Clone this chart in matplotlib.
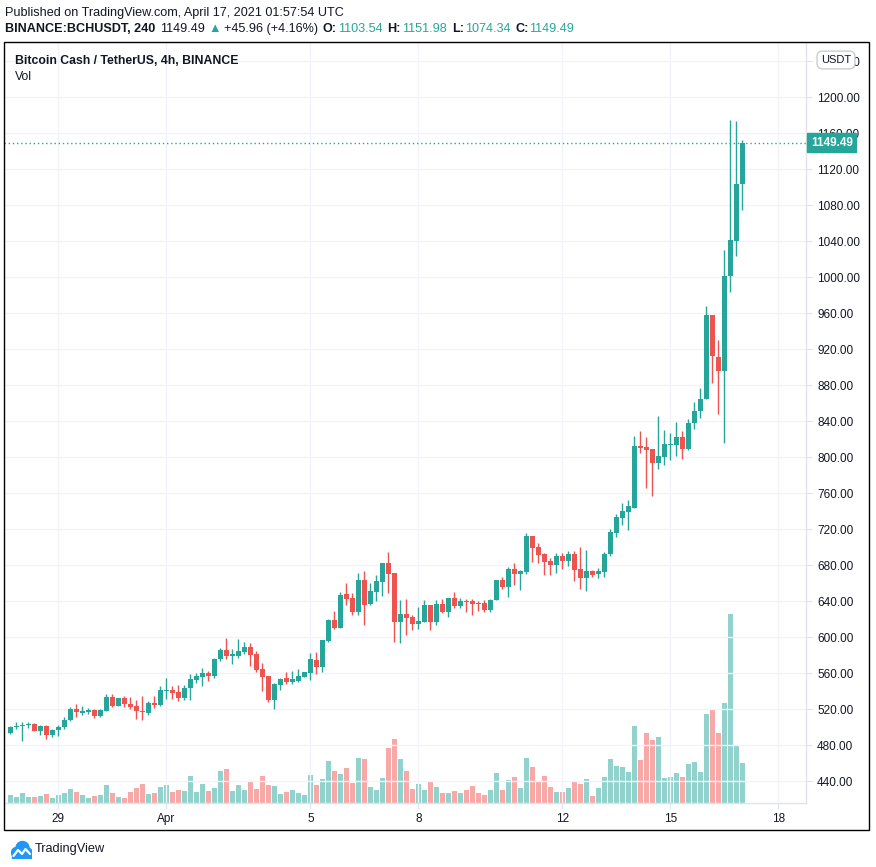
import matplotlib
matplotlib.use("Agg")
import matplotlib.pyplot as plt
from matplotlib.patches import Rectangle, Circle
from matplotlib.transforms import blended_transform_factory

plt.rcParams['font.family'] = ['Liberation Sans', 'DejaVu Sans']

# ---------------- data (BCH/USDT, 4h candles, Mar 27 16:00 -> Apr 17 00:00) ----------------
opens = [494.0, 500.0, 501.8, 502.9, 504.0, 496.2, 501.4, 491.8, 497.4, 500.3,
         508.5, 520.3, 516.2, 517.3, 519.2, 512.9, 518.5, 533.6, 524.0, 532.5,
         525.5, 523.6, 517.3, 516.2, 527.0, 525.1, 540.7, 541.4, 539.6, 532.9,
         543.3, 552.5, 556.2, 560.3, 557.4, 575.5, 585.9, 579.6, 579.6, 583.7,
         589.2, 581.4, 564.8, 557.0, 530.3, 547.0, 554.8, 550.3, 551.4, 555.9,
         560.3, 574.8, 567.0, 595.9, 619.2, 610.3, 648.1, 643.7, 628.1, 663.7,
         637.0, 650.3, 661.4, 682.5, 671.4, 617.0, 625.9, 622.5, 614.8, 617.0,
         635.9, 617.0, 637.0, 628.1, 643.7, 634.8, 640.3, 640.3, 638.1, 638.1,
         630.3, 641.5, 663.7, 656.3, 676.0, 670.8, 672.6, 712.6, 700.4, 693.0,
         685.2, 680.8, 690.8, 685.2, 693.0, 676.3, 666.1, 674.1, 670.8, 673.0,
         693.0, 715.9, 732.6, 739.3, 743.7, 812.6, 811.5, 809.3, 793.7, 800.4,
         814.0, 813.7, 822.6, 808.9, 837.7, 851.0, 864.4, 957.7, 911.1, 895.5,
         1001.0, 1040.0, 1103.54]
highs = [502.0, 505.9, 505.9, 505.5, 505.0, 502.5, 502.5, 498.1, 502.5, 511.4,
         522.5, 525.9, 523.6, 521.1, 520.3, 520.7, 537.0, 537.0, 533.0, 534.8,
         533.6, 530.3, 534.8, 528.8, 534.8, 545.5, 554.8, 545.9, 547.0, 547.0,
         559.2, 560.7, 565.5, 562.9, 576.6, 588.1, 599.2, 587.4, 597.7, 594.8,
         593.3, 584.4, 571.4, 557.0, 549.2, 554.8, 561.4, 562.5, 564.8, 562.0,
         582.5, 583.7, 597.0, 620.3, 629.2, 650.3, 660.3, 649.2, 671.4, 673.7,
         660.3, 669.2, 682.5, 694.8, 671.4, 641.4, 642.5, 624.8, 633.7, 641.4,
         635.9, 641.4, 642.5, 643.7, 650.3, 643.7, 642.5, 642.5, 640.3, 641.4,
         642.5, 663.7, 667.4, 678.1, 682.6, 674.8, 716.0, 712.6, 704.8, 694.1,
         688.2, 694.1, 694.1, 696.3, 696.3, 700.8, 697.4, 675.2, 677.4, 695.2,
         720.4, 737.0, 749.3, 752.6, 823.7, 829.3, 822.6, 809.3, 845.9, 830.4,
         827.0, 839.3, 829.3, 842.2, 861.0, 876.6, 967.7, 957.7, 930.0, 1030.0,
         1174.4, 1173.3, 1151.98]
lows = [493.0, 498.5, 485.1, 499.6, 496.2, 491.8, 487.4, 489.6, 490.7, 498.5,
        507.4, 511.8, 514.0, 515.1, 510.7, 511.1, 518.5, 522.9, 523.5, 522.2,
        519.9, 509.6, 508.5, 513.3, 521.1, 524.0, 531.8, 531.8, 528.8, 530.0,
        530.0, 549.2, 545.5, 551.8, 555.1, 573.3, 575.9, 570.7, 577.0, 581.4,
        568.1, 561.4, 540.3, 528.1, 520.3, 541.4, 548.1, 548.1, 550.3, 555.5,
        552.5, 559.2, 561.4, 594.8, 609.2, 610.3, 635.9, 624.8, 624.8, 613.7,
        635.9, 640.3, 645.9, 649.2, 594.8, 593.7, 602.5, 608.1, 609.2, 617.0,
        608.1, 613.7, 627.0, 622.5, 632.5, 632.5, 628.1, 624.8, 629.2, 628.1,
        628.0, 641.5, 653.7, 645.2, 658.5, 653.0, 670.4, 683.7, 682.6, 669.7,
        669.7, 671.9, 676.3, 679.7, 663.0, 654.1, 651.9, 667.4, 666.3, 667.4,
        690.8, 711.5, 724.8, 719.3, 743.7, 804.8, 765.9, 757.0, 787.0, 791.5,
        797.0, 801.5, 798.1, 807.8, 831.1, 843.3, 864.4, 882.2, 847.7, 815.5,
        983.3, 1023.3, 1074.34]
closes = [500.7, 501.8, 502.9, 504.0, 496.2, 501.4, 491.8, 497.0, 500.3, 508.1,
          520.3, 517.3, 518.5, 519.6, 512.9, 519.6, 533.6, 524.0, 532.5, 525.5,
          522.9, 517.7, 516.6, 527.0, 524.8, 541.4, 541.4, 538.5, 532.9, 543.3,
          553.3, 557.0, 560.3, 557.0, 575.5, 585.9, 579.2, 581.4, 584.8, 589.2,
          580.3, 563.7, 555.9, 530.3, 548.1, 553.7, 550.3, 553.7, 557.0, 561.4,
          575.9, 567.0, 597.0, 619.2, 610.3, 647.0, 642.5, 628.1, 663.7, 635.9,
          651.4, 662.5, 682.5, 670.3, 617.0, 625.9, 621.4, 614.8, 618.1, 635.9,
          617.0, 637.0, 628.1, 643.7, 634.8, 640.3, 639.2, 637.0, 637.0, 630.3,
          641.4, 663.7, 656.3, 676.0, 670.8, 673.7, 712.6, 699.7, 691.9, 684.1,
          680.8, 690.8, 685.2, 693.0, 675.2, 666.3, 674.1, 669.7, 674.1, 693.0,
          717.4, 733.7, 740.4, 745.9, 812.6, 810.4, 808.1, 793.7, 801.5, 814.8,
          814.8, 822.6, 809.3, 837.7, 851.0, 864.4, 957.7, 912.2, 895.5, 1001.0,
          1041.0, 1103.53, 1149.49]
volumes = [8, 6, 10, 6, 6, 7, 9, 5, 8, 10,
           14, 11, 8, 5, 7, 8, 18, 10, 6, 5,
           11, 15, 19, 9, 10, 16, 18, 11, 13, 12,
           27, 11, 19, 12, 15, 32, 34, 12, 18, 13,
           21, 14, 27, 18, 17, 9, 11, 13, 10, 8,
           28, 18, 24, 42, 32, 29, 35, 20, 45, 44,
           16, 13, 25, 55, 64, 44, 32, 14, 19, 13,
           21, 16, 10, 10, 12, 10, 13, 17, 10, 8,
           13, 30, 13, 23, 26, 15, 45, 36, 22, 27,
           16, 11, 11, 15, 22, 19, 24, 7, 15, 26,
           44, 37, 36, 31, 77, 43, 70, 63, 66, 25,
           26, 30, 26, 39, 41, 31, 89, 93, 70, 100,
           189, 58, 40]

tick_idx = [8, 26, 50, 68, 92, 110, 128]          # candle index of each date label
tick_labels = ["29", "Apr", "5", "8", "12", "15", "18"]
price_ticks = list(range(440, 1241, 40))

published = "Published on TradingView.com, April 17, 2021 01:57:54 UTC"
symbol = "BINANCE:BCHUSDT, 240"
chart_title = "Bitcoin Cash / TetherUS, 4h, BINANCE"
quote_ccy = "USDT"

# ---------------- style ----------------
UP, DOWN = "#26a69a", "#ef5350"
UP_VOL, DOWN_VOL = "#92d2cc", "#f7a9a7"
TEXT = "#131722"
GRID = "#f0f3fa"
AXLINE = "#e0e3eb"
FS = 8.5
HFS = 9.1

W, H = 876, 867
fig = plt.figure(figsize=(W / 100, H / 100), dpi=100)
fig.patch.set_facecolor("white")


def fx(px):
    return px / W


def fy(py):
    return 1 - py / H


L, R, T, B = 4, 806, 42, 803
rect = [fx(L), fy(B), (R - L) / W, (B - T) / H]
axv = fig.add_axes(rect)
ax = fig.add_axes(rect, sharex=axv)
ax.set_facecolor("none")

n = len(closes)
xs = list(range(n))
is_up = [c >= o for o, c in zip(opens, closes)]
cols = [UP if u else DOWN for u in is_up]
vcols = [UP_VOL if u else DOWN_VOL for u in is_up]

# volume pane (bottom quarter)
axv.bar(xs, volumes, width=0.8, color=vcols, linewidth=0)
axv.set_ylim(0, max(volumes) / 0.248)
axv.axis("off")

# candles
ax.vlines(xs, lows, highs, colors=cols, linewidth=1.0, zorder=3)
bottoms = [min(o, c) for o, c in zip(opens, closes)]
heights = [max(abs(c - o), 1.0) for o, c in zip(opens, closes)]
ax.bar(xs, heights, bottom=bottoms, width=0.74, color=cols, linewidth=0, zorder=4)

ax.set_xlim(-1.05, 132.6)
ax.set_ylim(415.9, 1261.4)

ax.set_yticks(price_ticks)
ax.set_yticklabels([f"{p:.2f}" for p in price_ticks])
ax.yaxis.tick_right()
ax.set_xticks(tick_idx)
ax.set_xticklabels(tick_labels)
ax.grid(True, color=GRID, linewidth=1)
ax.set_axisbelow(True)
ax.tick_params(axis="y", length=4, color=AXLINE, labelcolor=TEXT, labelsize=FS, pad=4)
ax.tick_params(axis="x", length=4, color=AXLINE, labelcolor=TEXT, labelsize=FS, pad=3)
for s in ("top", "left"):
    ax.spines[s].set_visible(False)
for s in ("right", "bottom"):
    ax.spines[s].set_color(AXLINE)
    ax.spines[s].set_linewidth(1)

# last price line + label
last = closes[-1]
ax.axhline(last, color=UP, linewidth=1, linestyle=(0, (1, 2)), zorder=2)
btr = blended_transform_factory(ax.transAxes, ax.transData)
ax.text(1.006, last, f"{last:.2f}", transform=btr, ha="left", va="center",
        color="white", fontweight="bold", fontsize=FS, clip_on=False, zorder=6,
        bbox=dict(boxstyle="square,pad=0.3", fc=UP, ec=UP))

# quote currency badge
fig.text(fx(836), fy(60), quote_ccy, ha="center", va="center", fontsize=8, color=TEXT,
         zorder=10, bbox=dict(boxstyle="round,pad=0.35,rounding_size=0.5", fc="white", ec="#c9ccd4", lw=1))

# outer frame
fig.add_artist(Rectangle((fx(4), fy(830)), (869 - 4) / W, (830 - 42) / H,
                         transform=fig.transFigure, fill=False, ec="black", lw=1))

# header
renderer = fig.canvas.get_renderer()


def chain(x, y, pieces, size=HFS):
    for s, color, weight, gap in pieces:
        t = fig.text(fx(x), fy(y), s, color=color, fontweight=weight, fontsize=size,
                     ha="left", va="center")
        x += t.get_window_extent(renderer).width + gap


fig.text(fx(5), fy(12.7), published, color=TEXT, fontsize=HFS, ha="left", va="center")
prev = closes[-2]
chg = last - prev
pct = chg / prev * 100
chain(5, 29.3, [
    (symbol, TEXT, "bold", 5),
    (f"{last:.2f}", TEXT, "normal", 3),
    ("\u25B2", UP, "normal", 3),
    (f"{chg:+.2f} ({pct:+.2f}%)", TEXT, "normal", 5),
    ("O:", TEXT, "bold", 1), (f"{opens[-1]:.2f}", UP, "normal", 5),
    ("H:", TEXT, "bold", 1), (f"{highs[-1]:.2f}", UP, "normal", 5),
    ("L:", TEXT, "bold", 1), (f"{lows[-1]:.2f}", UP, "normal", 5),
    ("C:", TEXT, "bold", 1), (f"{last:.2f}", UP, "normal", 5),
])

fig.text(fx(15), fy(61), chart_title, color=TEXT, fontsize=8.8, fontweight="bold", ha="left", va="center")
fig.text(fx(15), fy(77.5), "Vol", color=TEXT, fontsize=8.8, ha="left", va="center")

# TradingView logo + name
lax = fig.add_axes([fx(11), fy(859), 21 / W, 20 / H])
lax.set_xlim(0, 21)
lax.set_ylim(0, 20)
lax.axis("off")
blue = "#2196f3"
for (cx, cy, r) in [(5.5, 6.5, 5), (11.5, 11, 6.5), (16.5, 6.5, 4.5)]:
    lax.add_patch(Circle((cx, cy), r, color=blue))
lax.add_patch(Rectangle((1, 1.5), 19.5, 5, color=blue))
lax.plot([2.5, 7, 11, 14.5, 19], [3, 9, 5, 10, 5], color="white", lw=1.6, solid_capstyle="round")
fig.text(fx(35), fy(849), "TradingView", color=TEXT, fontsize=9.2, ha="left", va="center")

fig.savefig("out.png", dpi=100, facecolor="white")
